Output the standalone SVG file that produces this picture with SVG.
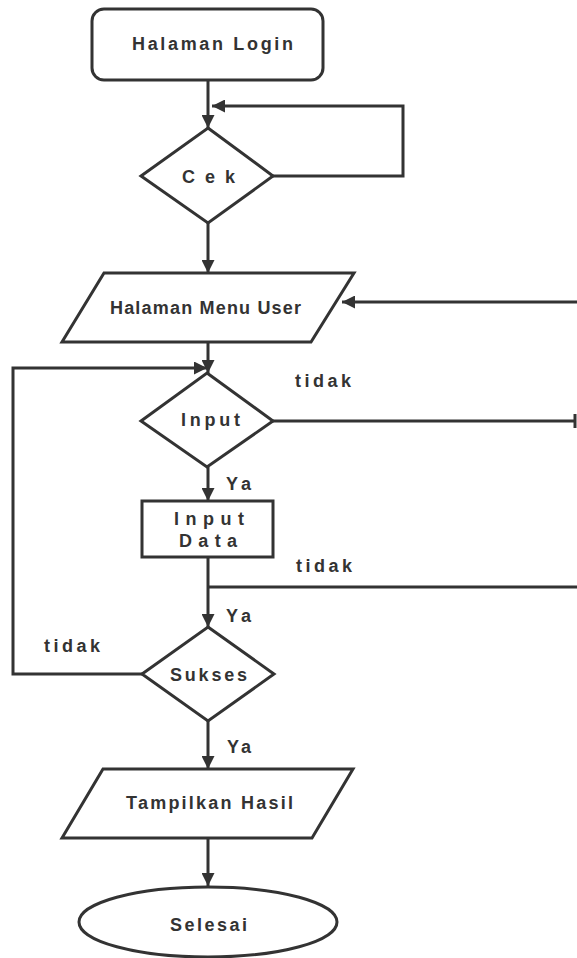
<svg xmlns="http://www.w3.org/2000/svg" width="577" height="958" viewBox="0 0 577 958">
  <style>
    .shape { fill: #ffffff; stroke: #333333; stroke-width: 3; stroke-linejoin: miter; }
    .edge { fill: none; stroke: #333333; stroke-width: 3; }
    .label { font-family: "Liberation Sans", Arial, sans-serif; font-weight: bold; font-size: 18px; fill: #333333; }
  </style>
  <defs>
    <marker id="arrow" viewBox="0 0 13 13" refX="13" refY="6.5" markerWidth="13" markerHeight="13" markerUnits="userSpaceOnUse" orient="auto">
      <path d="M0,0 L13,6.5 L0,13 Z" fill="#333333"/>
    </marker>
  </defs>
  <rect width="577" height="958" fill="#ffffff"/>

  <!-- connectors -->
  <g id="connectors">
    <line class="edge" x1="208" y1="80" x2="208" y2="128" marker-end="url(#arrow)"/>
    <polyline class="edge" points="273,176 403,176 403,106 212,106" marker-end="url(#arrow)"/>
    <line class="edge" x1="208" y1="223" x2="208" y2="273" marker-end="url(#arrow)"/>
    <line class="edge" x1="577" y1="302" x2="342" y2="302" marker-end="url(#arrow)"/>
    <line class="edge" x1="208" y1="342" x2="208" y2="373" marker-end="url(#arrow)"/>
    <polyline class="edge" points="142,674 13,674 13,368 207,368" marker-end="url(#arrow)"/>
    <line class="edge" x1="273" y1="421" x2="575" y2="421"/>
    <line class="edge" x1="575" y1="414" x2="575" y2="428"/>
    <line class="edge" x1="208" y1="467" x2="208" y2="501" marker-end="url(#arrow)"/>
    <line class="edge" x1="208" y1="557" x2="208" y2="627" marker-end="url(#arrow)"/>
    <line class="edge" x1="208" y1="587" x2="577" y2="587"/>
    <line class="edge" x1="208" y1="721" x2="208" y2="769" marker-end="url(#arrow)"/>
    <line class="edge" x1="208" y1="838" x2="208" y2="886" marker-end="url(#arrow)"/>
    <text class="label" x="295" y="387" textLength="56">tidak</text>
    <text class="label" x="226" y="490" textLength="25">Ya</text>
    <text class="label" x="296" y="572" textLength="56">tidak</text>
    <text class="label" x="226" y="622" textLength="25">Ya</text>
    <text class="label" x="44" y="652" textLength="56">tidak</text>
    <text class="label" x="227" y="753" textLength="24">Ya</text>
  </g>

  <g id="halaman-login">
    <rect class="shape" x="92" y="9" width="231" height="71" rx="12" ry="12"/>
    <text class="label" x="132" y="50" textLength="161">Halaman Login</text>
  </g>

  <g id="cek">
    <polygon class="shape" points="208,128 273,176 208,223 141,176"/>
    <text class="label" x="182" y="183" textLength="53">Cek</text>
  </g>

  <g id="halaman-menu-user">
    <polygon class="shape" points="104,273 354,273 311,342 62,342"/>
    <text class="label" x="110" y="314" textLength="191">Halaman Menu User</text>
  </g>

  <g id="input">
    <polygon class="shape" points="207,373 273,421 207,467 141,421"/>
    <text class="label" x="181" y="426" textLength="59">Input</text>
  </g>

  <g id="input-data">
    <rect class="shape" x="142" y="501" width="131" height="56"/>
    <text class="label" x="174" y="525" textLength="70">Input</text>
    <text class="label" x="179" y="547" textLength="58">Data</text>
  </g>

  <g id="sukses">
    <polygon class="shape" points="208,627 274,674 208,721 142,674"/>
    <text class="label" x="170" y="681" textLength="77">Sukses</text>
  </g>

  <g id="tampilkan-hasil">
    <polygon class="shape" points="103,769 353,769 312,838 62,838"/>
    <text class="label" x="126" y="809" textLength="167">Tampilkan Hasil</text>
  </g>

  <g id="selesai">
    <ellipse class="shape" cx="208" cy="922" rx="129" ry="35"/>
    <text class="label" x="170" y="931" textLength="77">Selesai</text>
  </g>
</svg>
